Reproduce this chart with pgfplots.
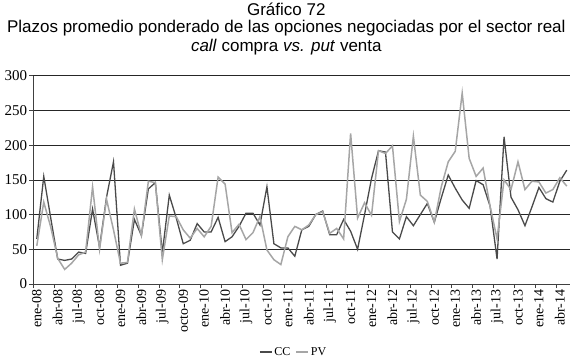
\documentclass[border=0pt]{standalone}
\usepackage{fontspec}
\setmainfont{Liberation Serif}
\newfontfamily\arial{Liberation Sans}
\usepackage{pgfplots}
\pgfplotsset{compat=1.18}
\usepackage{pgfplotstable}
\definecolor{ccc}{HTML}{4A4A4A}
\definecolor{pvc}{HTML}{A6A6A6}
\pgfplotstableread{
n cc pv
0 65 55
1 155 118
2 95 82
3 36 37
4 34 21
5 36 30
6 46 42
7 44 46
8 108 140
9 53 50
10 125 122
11 176 78
12 27 30
13 30 31
14 93 108
15 70 70
16 137 148
17 146 146
18 45 35
19 128 98
20 95 97
21 58 78
22 63 66
23 87 80
24 75 68
25 75 83
26 96 154
27 61 144
28 68 74
29 83 86
30 102 64
31 102 74
32 85 97
33 140 49
34 58 35
35 52 28
36 52 68
37 40 83
38 78 78
39 83 85
40 100 100
41 105 104
42 71 73
43 71 80
44 93 65
45 76 217
46 50 95
47 100 117
48 152 99
49 192 192
50 190 188
51 75 199
52 65 90
53 97 122
54 84 213
55 100 128
56 116 119
57 89 89
58 124 140
59 157 176
60 138 191
61 121 275
62 109 181
63 149 155
64 143 167
65 112 112
66 36 65
67 212 150
68 125 136
69 107 176
70 84 136
71 111 148
72 139 147
73 123 131
74 118 136
75 148 153
76 164 141
}\datatable

\begin{document}
\begin{tikzpicture}
\useasboundingbox (-33.3pt,-76pt) rectangle (539.7pt,284pt);
\begin{axis}[
  scale only axis,
  width=537pt, height=208.3pt,
  xmin=-0.5, xmax=76.5, ymin=0, ymax=300,
  axis x line*=bottom, axis y line*=left,
  axis line style={black!75, line width=0.6pt},
  ytick={0,50,...,300},
  ymajorgrids,
  grid style={black!85, line width=0.6pt},
  xtick={0,3,...,75},
  xticklabels={ene-08,abr-08,jul-08,oct-08,ene-09,abr-09,jul-09,octo-09,ene-10,abr-10,jul-10,oct-10,ene-11,abr-11,jul-11,oct-11,ene-12,abr-12,jul-12,oct-12,ene-13,abr-13,jul-13,oct-13,ene-14,abr-14},
  major x tick style={draw=none},
  minor xtick={-0.5,2.5,...,74.5},
  minor x tick style={draw=black!75, line width=0.6pt},
  minor tick length=4pt,
  major tick length=4pt,
  ytick style={draw=black!75, line width=0.6pt},
  tick align=outside,
  /pgf/number format/assume math mode=true,
  x tick label style={rotate=90, anchor=east, font=\fontsize{14}{14}\selectfont, inner sep=1.5pt},
  y tick label style={font=\fontsize{15}{15}\selectfont, inner sep=2pt},
  legend style={at={(0.485,-0.326)}, anchor=center, draw=none, fill=none,
    font=\fontsize{12}{12}\selectfont, legend columns=2,
    /tikz/every even column/.append style={column sep=3pt}},
  legend image code/.code={\draw[#1] (0pt,0pt) -- (12pt,0pt);},
  clip=false,
]
\addplot[ccc, line width=1.3pt, no markers] table[x=n, y=cc] {\datatable};
\addlegendentry{CC}
\addplot[pvc, line width=1.5pt, no markers] table[x=n, y=pv] {\datatable};
\addlegendentry{PV}
\end{axis}
\node[anchor=center] at (253pt,275pt) {\arial\fontsize{17}{17}\selectfont Gráfico 72};
\node[anchor=center] at (253pt,256pt) {\arial\fontsize{17}{17}\selectfont Plazos promedio ponderado de las opciones negociadas por el sector real};
\node[anchor=center] at (253pt,237pt) {\arial\fontsize{17}{17}\selectfont \textit{call} compra \textit{vs.} \textit{put} venta};
\end{tikzpicture}
\end{document}
